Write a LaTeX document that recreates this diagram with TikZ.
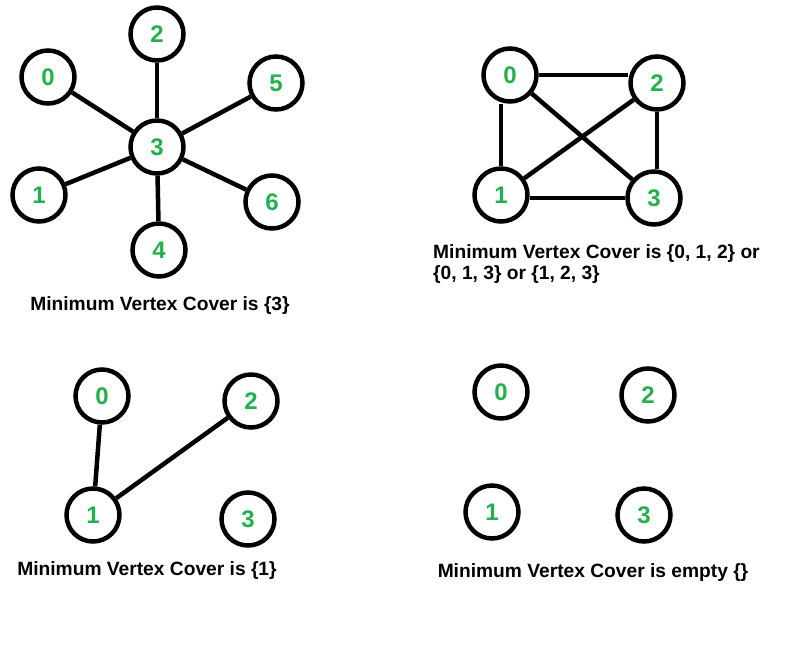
\documentclass[tikz,border=0pt]{standalone}
\usepackage{fontspec}
\setmainfont{Liberation Sans}
\definecolor{vgreen}{RGB}{34,177,76}
\tikzset{
  vtx/.style={circle,draw=black,line width=4.5pt,minimum size=53pt,inner sep=0pt,
    text=vgreen,font=\fontsize{24}{24}\selectfont\bfseries},
  edg/.style={line width=4.5pt,draw=black},
  lbl/.style={font=\fontsize{19.2}{20.5}\selectfont\bfseries,inner sep=0pt,text=black}
}
\begin{document}
\begin{tikzpicture}[x=1pt,y=-1pt]
\useasboundingbox[fill=white] (0,0) rectangle (806,648);
% Graph A
\node[vtx] (a2) at (157,34) {2};
\node[vtx] (a0) at (48,77) {0};
\node[vtx] (a5) at (276,83) {5};
\node[vtx] (a3) at (157,147) {3};
\node[vtx] (a1) at (39,195) {1};
\node[vtx] (a6) at (272,202) {6};
\node[vtx] (a4) at (159,250) {4};
\foreach \n in {a0,a1,a2,a4,a5,a6} \draw[edg] (a3) -- (\n);
\node[lbl] (ta) at (160,306) {Minimum Vertex Cover is \{3\}};
% Graph B
\node[vtx] (b0) at (510,75) {0};
\node[vtx] (b2) at (657,83) {2};
\node[vtx] (b1) at (501,195) {1};
\node[vtx] (b3) at (654,198) {3};
\draw[edg] (b0.east) -- (b0.east -| b2.west);
\draw[edg] (b1.north) -- (b1.north |- b0.south);
\draw[edg] (b2.south) -- (b2.south |- b3.north);
\draw[edg] (b3.west) -- (b3.west -| b1.east);
\draw[edg] (b0) -- (b3);
\draw[edg] (b1) -- (b2);
\node[lbl,anchor=west,align=left] (tb) at (433,264) {Minimum Vertex Cover is \{0, 1, 2\} or\\\{0, 1, 3\} or \{1, 2, 3\}};
% Graph C
\node[vtx] (c0) at (102,396) {0};
\node[vtx] (c2) at (251,401) {2};
\node[vtx] (c1) at (93,515) {1};
\node[vtx] (c3) at (248,519) {3};
\draw[edg] (c0) -- (c1);
\draw[edg] (c2) -- (c1);
\node[lbl] (tc) at (147,571) {Minimum Vertex Cover is \{1\}};
% Graph D
\node[vtx] (d0) at (501,392) {0};
\node[vtx] (d2) at (648,395) {2};
\node[vtx] (d1) at (492,512) {1};
\node[vtx] (d3) at (644,515) {3};
\node[lbl] (td) at (593,573) {Minimum Vertex Cover is empty \{\}};
\end{tikzpicture}
\end{document}
